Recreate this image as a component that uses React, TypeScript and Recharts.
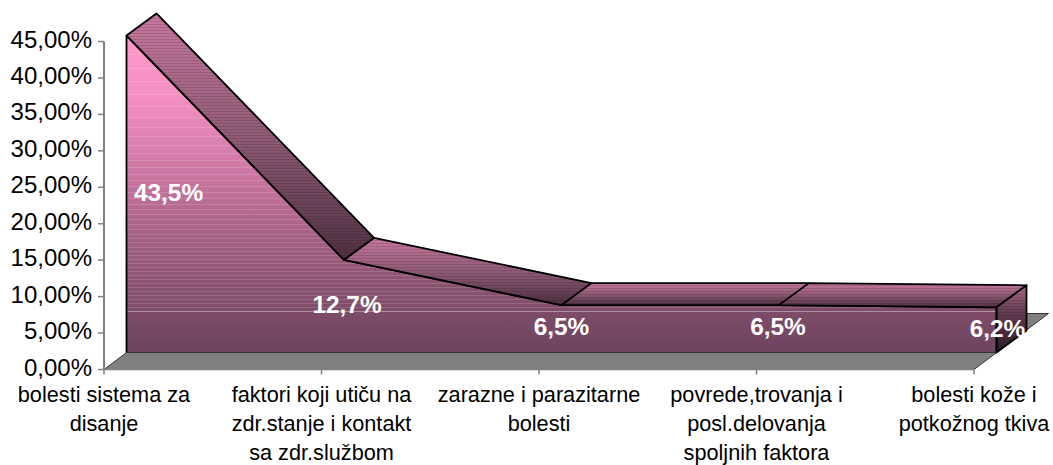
import { ComposedChart, Area, XAxis, YAxis, ReferenceArea, LabelList } from 'recharts';

const categories = [
  'bolesti sistema za disanje',
  'faktori koji utiču na zdr.stanje i kontakt sa zdr.službom',
  'zarazne i parazitarne bolesti',
  'povrede,trovanja i posl.delovanja spoljnih faktora',
  'bolesti kože i potkožnog tkiva',
];
const categoryLines = [
  ['bolesti sistema za', 'disanje'],
  ['faktori koji utiču na', 'zdr.stanje i kontakt', 'sa zdr.službom'],
  ['zarazne i parazitarne', 'bolesti'],
  ['povrede,trovanja i', 'posl.delovanja', 'spoljnih faktora'],
  ['bolesti kože i', 'potkožnog tkiva'],
];
const values = [43.5, 12.7, 6.5, 6.5, 6.2];
const valueLabels = ['43,5%', '12,7%', '6,5%', '6,5%', '6,2%'];
const yTicks = [0, 5, 10, 15, 20, 25, 30, 35, 40, 45];

const chartData = categories.map((name, i) => ({ name, value: values[i] }));

// fake 3D: how far the data sits behind the axes, and how deep the ribbon is
const FRONT_DX = 22.5;
const FRONT_DY = -17;
const RIBBON_DX = 30;
const RIBBON_DY = -22;
const FLOOR_DX = 74.5;
const FLOOR_DY = -56;
const BASE_Y = 352.5;
const labelNudge = [42, 3, 0, -1, 1];
const labelLift = [-1, -1, -2, -2, -1];

// the light banding of the original gradient
const stripeYs = [
  54, 68, 81, 94, 106, 117, 127, 136, 145, 153, 160, 167, 174, 180, 186, 192, 198, 204, 209, 214, 219, 224, 229, 234,
  238, 242, 247, 251, 255, 259, 263, 267, 271, 275, 279, 283, 287, 291, 295, 299, 303, 307, 311,
];
const TOP = 35;
const SPAN = BASE_Y - TOP;
const stripeStops = stripeYs.flatMap((y, i) => {
  const a = (y - TOP) / SPAN;
  const b = (y + (i === stripeYs.length - 1 ? 1 : 1.4) - TOP) / SPAN;
  const op = i === stripeYs.length - 1 ? 0.38 : 0.14;
  return [
    <stop key={`${i}a`} offset={a} stopColor="#fff" stopOpacity={0} />,
    <stop key={`${i}b`} offset={a} stopColor="#fff" stopOpacity={op} />,
    <stop key={`${i}c`} offset={b} stopColor="#fff" stopOpacity={op} />,
    <stop key={`${i}d`} offset={b} stopColor="#fff" stopOpacity={0} />,
  ];
});

const quad = (pts: number[][]) => pts.map(p => p.join(',')).join(' ');

function RibbonDot(props: any) {
  const { cx, cy, index, points } = props;
  const next = points[index + 1];
  const isLast = index === points.length - 1;
  const poly = next
    ? quad([[cx, cy], [next.x, next.y], [next.x + RIBBON_DX, next.y + RIBBON_DY], [cx + RIBBON_DX, cy + RIBBON_DY]])
    : quad([[cx, cy], [cx + RIBBON_DX, cy + RIBBON_DY], [cx + RIBBON_DX, BASE_Y + RIBBON_DY], [cx, BASE_Y]]);
  return (
    <g key={index}>
      <polygon points={poly} fill={next ? 'url(#ribbonFill)' : 'url(#capFill)'} stroke="#000" strokeWidth={1.8} strokeLinejoin="round" />
      <polygon points={poly} fill="url(#ribbonLines)" stroke="none" />
      {(index === 0 || isLast) && <line x1={cx} y1={cy} x2={cx} y2={BASE_Y} stroke="#000" strokeWidth={1.8} />}
      {isLast && <line x1={points[0].x} y1={BASE_Y} x2={cx} y2={BASE_Y} stroke="#333" strokeWidth={1} />}
    </g>
  );
}

function FloorShape(props: any) {
  const { x, width } = props;
  const y = 369.5;
  const right = x + width;
  return (
    <polygon
      points={quad([[x, y], [right, y], [right + FLOOR_DX, y + FLOOR_DY], [x + FLOOR_DX, y + FLOOR_DY]])}
      fill="#808080"
      stroke="#333"
      strokeWidth={1}
    />
  );
}

function CategoryTick(props: any) {
  const { x, index } = props;
  return (
    <text x={x} textAnchor="middle" fontFamily="Liberation Sans" fontSize={21.7} fill="#000">
      {categoryLines[index].map((line, i) => (
        <tspan key={line} x={x} y={401.5 + i * 29.3}>{line}</tspan>
      ))}
    </text>
  );
}

function ValueLabel(props: any) {
  const { x, y, index } = props;
  return (
    <text
      x={x + labelNudge[index]}
      y={(y + BASE_Y) / 2 + 8 + labelLift[index]}
      textAnchor="middle"
      fontFamily="Liberation Sans"
      fontWeight="bold"
      fontSize={24.4}
      fill="#fff"
    >
      {valueLabels[index]}
    </text>
  );
}

function ValueTick(props: any) {
  const { x, y, payload } = props;
  return (
    <text x={x} y={y + 6} textAnchor="end" fontFamily="Liberation Sans" fontSize={24} fill="#000">
      {`${payload.value.toFixed(2).replace('.', ',')}%`}
    </text>
  );
}

export default function App() {
  return (
    <div style={{ position: 'absolute', left: 0, top: 0, width: 1053, height: 465, background: '#fff' }}>
      <ComposedChart
        width={1053}
        height={465}
        data={chartData}
        margin={{ top: 41.5, right: 79, bottom: 0.5, left: 4 }}
      >
        <defs>
          <linearGradient id="frontFill" gradientUnits="userSpaceOnUse" x1="0" y1={TOP} x2="0" y2={BASE_Y}>
            <stop offset="0" stopColor="#ff99cc" />
            <stop offset="0.2" stopColor="#f48fc2" />
            <stop offset="0.42" stopColor="#cf79a5" />
            <stop offset="0.62" stopColor="#a86287" />
            <stop offset="0.86" stopColor="#7f4c69" />
            <stop offset="1" stopColor="#6e4460" />
          </linearGradient>
          <linearGradient id="stripeFill" gradientUnits="userSpaceOnUse" x1="0" y1={TOP} x2="0" y2={BASE_Y}>
            {stripeStops}
          </linearGradient>
          <linearGradient id="ribbonFill" x1="0" y1="0" x2="0" y2="1">
            <stop offset="0" stopColor="#c8789f" />
            <stop offset="0.5" stopColor="#8f5a76" />
            <stop offset="1" stopColor="#4d3040" />
          </linearGradient>
          <linearGradient id="capFill" x1="0" y1="0" x2="0" y2="1">
            <stop offset="0" stopColor="#b06a90" />
            <stop offset="0.35" stopColor="#6a4058" />
            <stop offset="1" stopColor="#2e1a28" />
          </linearGradient>
          <pattern id="ribbonLines" patternUnits="userSpaceOnUse" width="4" height="3">
            <rect width="4" height="1" fill="#000" fillOpacity="0.13" />
          </pattern>
        </defs>

        <XAxis
          dataKey="name"
          scale="point"
          height={95}
          interval={0}
          axisLine={{ stroke: '#808080', strokeWidth: 1.5 }}
          tickLine={{ stroke: '#808080', strokeWidth: 1.5 }}
          tickSize={5}
          tick={<CategoryTick />}
        />
        <XAxis xAxisId="front" dataKey="name" scale="point" hide padding={{ left: FRONT_DX, right: -FRONT_DX }} />
        <YAxis
          width={100}
          domain={[0, 45]}
          ticks={yTicks}
          interval={0}
          axisLine={{ stroke: '#808080', strokeWidth: 2 }}
          tickLine={{ stroke: '#808080', strokeWidth: 1.5 }}
          tickSize={6}
          tickMargin={6}
          tick={<ValueTick />}
        />
        <YAxis yAxisId="front" domain={[0, 45]} hide padding={{ top: FRONT_DY, bottom: -FRONT_DY }} />

        <ReferenceArea x1={categories[0]} x2={categories[4]} y1={0} y2={5} shape={<FloorShape />} />

        {/* keeps the visible axes tied to a series */}
        <Area dataKey="value" type="linear" fill="none" stroke="none" isAnimationActive={false} />
        <Area
          xAxisId="front"
          yAxisId="front"
          dataKey="value"
          type="linear"
          fill="url(#frontFill)"
          fillOpacity={1}
          stroke="none"
          isAnimationActive={false}
        />
        <Area
          xAxisId="front"
          yAxisId="front"
          dataKey="value"
          type="linear"
          fill="url(#stripeFill)"
          fillOpacity={1}
          stroke="#000"
          strokeWidth={2}
          dot={(p: any) => <RibbonDot key={p.index} {...p} />}
          isAnimationActive={false}
        >
          <LabelList dataKey="value" content={<ValueLabel />} />
        </Area>
      </ComposedChart>
    </div>
  );
}
